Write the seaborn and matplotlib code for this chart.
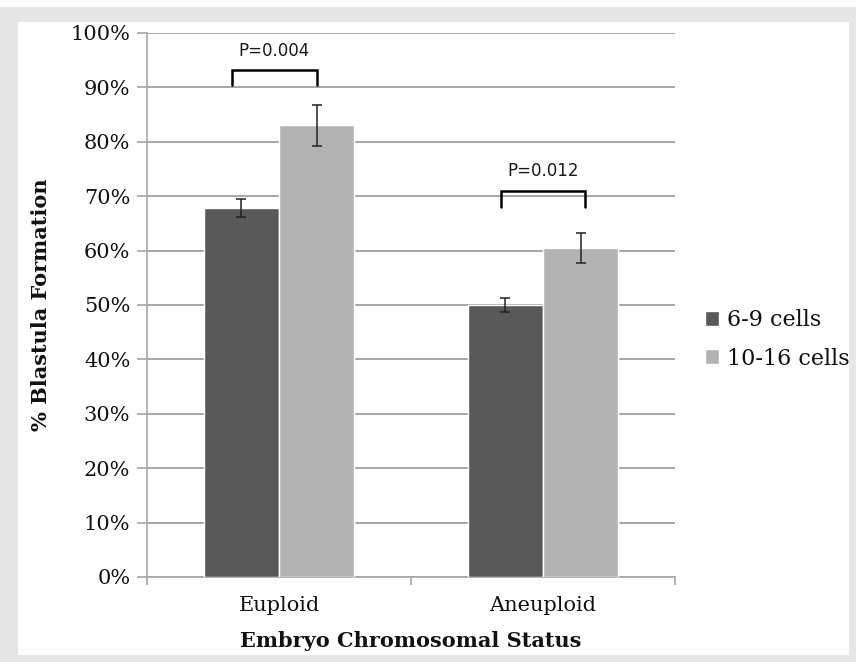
import matplotlib
matplotlib.use("Agg")
import matplotlib.pyplot as plt
import seaborn as sns
import pandas as pd
import numpy as np
from matplotlib.patches import Rectangle
from matplotlib.ticker import PercentFormatter, FixedLocator

# ---- data ----
categories = ["Euploid", "Aneuploid"]
groups = ["6-9 cells", "10-16 cells"]
values_69 = [67.8, 50.0]
values_1016 = [83.0, 60.5]
err_69 = [1.6, 1.2]
err_1016 = [3.7, 2.7]
p_labels = ["P=0.004", "P=0.012"]
bracket_top = [93.2, 71.0]
bracket_bottom = [90.4, 68.0]
y_ticks = [0, 10, 20, 30, 40, 50, 60, 70, 80, 90, 100]

df = pd.DataFrame({
    "status": categories * 2,
    "group": [groups[0]] * 2 + [groups[1]] * 2,
    "value": values_69 + values_1016,
})

sns.set_theme(style="white")
plt.rcParams["font.family"] = ["DejaVu Serif"]

fig = plt.figure(figsize=(8.56, 6.62), dpi=100)
fig.patch.set_facecolor("white")
W, H = 856, 662
fig.patches.append(Rectangle((0, 0), 1, 1 - 7 / H, transform=fig.transFigure,
                             facecolor="#e6e6e6", edgecolor="none", zorder=-10))
fig.patches.append(Rectangle((18 / W, 1 - 655 / H), (849 - 18) / W, (655 - 22) / H,
                             transform=fig.transFigure, facecolor="white",
                             edgecolor="none", zorder=-9))

ax = fig.add_axes([147 / W, 1 - 577 / H, (675 - 147) / W, (577 - 33) / H])
ax.set_facecolor("none")

palette = {groups[0]: "#595959", groups[1]: "#b3b3b3"}
sns.barplot(data=df, x="status", y="value", hue="group", hue_order=groups,
            order=categories, palette=palette, width=0.57, errorbar=None,
            saturation=1, ax=ax, zorder=3)

bars = [p for p in ax.patches if p.get_height() > 0]
bars_sorted = sorted(bars, key=lambda p: p.get_x())
vals_ordered = [values_69[0], values_1016[0], values_69[1], values_1016[1]]
errs_ordered = [err_69[0], err_1016[0], err_69[1], err_1016[1]]
xs = [p.get_x() + p.get_width() / 2 for p in bars_sorted]
ax.errorbar(xs, vals_ordered, yerr=errs_ordered, fmt="none", ecolor="#222222",
            elinewidth=1.1, capsize=3.5, capthick=1.1, zorder=4)

# significance brackets
bw = bars_sorted[0].get_width()
left_off = [0.62, 0.56]
right_off = [0.50, 0.56]
for i in range(2):
    x0 = i - bw * left_off[i]
    x1 = i + bw * right_off[i]
    ax.plot([x0, x0, x1, x1], [bracket_bottom[i], bracket_top[i], bracket_top[i], bracket_bottom[i]],
            color="black", lw=1.8, clip_on=False, zorder=5, solid_joinstyle="miter")
    ax.text((x0 + x1) / 2, bracket_top[i] + 1.9, p_labels[i], ha="center", va="bottom",
            fontsize=12, family=["DejaVu Sans"], color="#1a1a1a")

ax.set_ylim(0, 100)
ax.set_xlim(-0.5, 1.5)
ax.yaxis.set_major_locator(FixedLocator(y_ticks))
ax.yaxis.set_major_formatter(PercentFormatter(decimals=0))
ax.grid(axis="y", color="#a6a6a6", lw=1.4, zorder=0)
ax.set_axisbelow(True)

for s in ["top", "right"]:
    ax.spines[s].set_visible(False)
ax.spines["left"].set_color("#a6a6a6")
ax.spines["bottom"].set_color("#a6a6a6")
ax.spines["left"].set_linewidth(1.2)
ax.spines["bottom"].set_linewidth(1.2)

ax.tick_params(axis="y", which="major", length=7, width=1.2, color="#a6a6a6",
               labelsize=15, labelcolor="#111111", pad=5, left=True)
ax.set_xticks([-0.5, 0.5, 1.5], minor=True)
ax.tick_params(axis="x", which="minor", length=6, width=1.2, color="#a6a6a6", bottom=True)
ax.tick_params(axis="x", which="major", length=0, labelsize=15, labelcolor="#111111", pad=14)

ax.set_xlabel("Embryo Chromosomal Status", fontsize=15, fontweight="bold",
              color="#111111", labelpad=11)
ax.set_ylabel("% Blastula Formation", fontsize=15, fontweight="bold",
              color="#111111", labelpad=14)

leg = ax.legend(loc="center left", bbox_to_anchor=(1.04, 0.437), frameon=False,
                fontsize=16, handlelength=0.65, handleheight=0.65, handletextpad=0.35,
                labelspacing=0.75, title=None, borderaxespad=0)
for t in leg.get_texts():
    t.set_color("#111111")

fig.savefig("out.png", dpi=100)
